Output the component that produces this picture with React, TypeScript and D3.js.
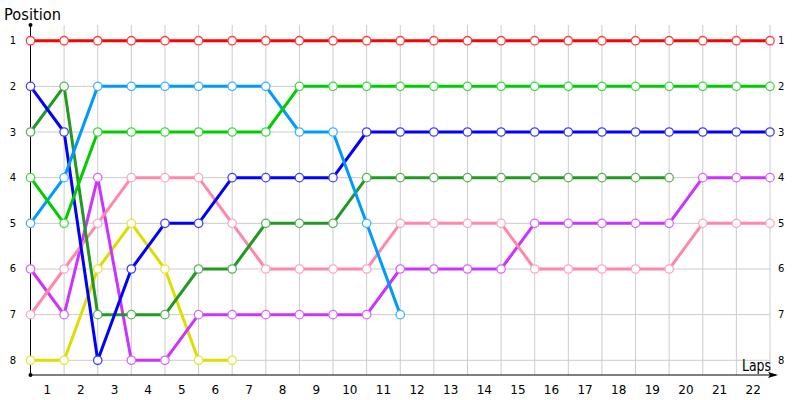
import * as d3 from "d3";

const laps = d3.range(0, 23);
const positions = [1, 2, 3, 4, 5, 6, 7, 8];
const lapLabels = laps.slice(1).map(String);

type Driver = { name: string; color: string; pos: number[] };

const red = [1, 1, 1, 1, 1, 1, 1, 1, 1, 1, 1, 1, 1, 1, 1, 1, 1, 1, 1, 1, 1, 1, 1];
const lightBlue = [5, 4, 2, 2, 2, 2, 2, 2, 3, 3, 5, 7];
const green = [4, 5, 3, 3, 3, 3, 3, 3, 2, 2, 2, 2, 2, 2, 2, 2, 2, 2, 2, 2, 2, 2, 2];
const darkGreen = [3, 2, 7, 7, 7, 6, 6, 5, 5, 5, 4, 4, 4, 4, 4, 4, 4, 4, 4, 4];
const blue = [2, 3, 8, 6, 5, 5, 4, 4, 4, 4, 3, 3, 3, 3, 3, 3, 3, 3, 3, 3, 3, 3, 3];
const pink = [7, 6, 5, 4, 4, 4, 5, 6, 6, 6, 6, 5, 5, 5, 5, 6, 6, 6, 6, 6, 5, 5, 5];
const purple = [6, 7, 4, 8, 8, 7, 7, 7, 7, 7, 7, 6, 6, 6, 6, 5, 5, 5, 5, 5, 4, 4, 4];
const yellow = [8, 8, 6, 5, 6, 8, 8];

const drivers: Driver[] = [
  { name: "yellow", color: "#dddd00", pos: yellow },
  { name: "purple", color: "#cc33ff", pos: purple },
  { name: "pink", color: "#ff88aa", pos: pink },
  { name: "darkGreen", color: "#229922", pos: darkGreen },
  { name: "blue", color: "#0000ff", pos: blue },
  { name: "lightBlue", color: "#0099ff", pos: lightBlue },
  { name: "green", color: "#00cc00", pos: green },
  { name: "red", color: "#ff0000", pos: red },
];

const font = "Tahoma, 'DejaVu Sans', sans-serif";

export default function App() {
  const x = d3.scaleLinear().domain([0, 22]).range([30.5, 770]);
  const y = d3.scaleLinear().domain([1, 8]).range([40.7, 360.3]);
  const top = 25;
  const bottom = 375;

  const line = d3
    .line<number>()
    .x((_, i) => x(i))
    .y((d) => y(d));

  const lighter = (c: string) => d3.interpolateRgb(c, "#ffffff")(0.25);

  return (
    <div style={{ position: "absolute", left: 0, top: 0 }}>
      <svg width={800} height={400} style={{ display: "block", fontFamily: font }}>
        <rect width={800} height={400} fill="#fff" />
        {/* grid */}
        <g stroke="#cccccc" strokeWidth={1}>
          {laps.map((l) => (
            <line key={"v" + l} x1={x(l)} x2={x(l)} y1={top} y2={bottom} />
          ))}
          {positions.map((p) => (
            <line key={"h" + p} x1={x(0)} x2={x(22)} y1={y(p)} y2={y(p)} />
          ))}
        </g>
        {/* axes */}
        <line x1={x(0)} x2={x(0)} y1={bottom} y2={top} stroke="#000" />
        <line x1={x(0)} x2={776} y1={bottom} y2={bottom} stroke="#000" />
        <path d={`M${778},${bottom} L${768},${bottom - 3} L${770},${bottom} L${768},${bottom + 3} Z`} fill="#000" />
        <circle cx={x(0)} cy={top} r={2} fill="#000" />
        <circle cx={x(0)} cy={bottom} r={2} fill="#000" />
        {/* lap labels */}
        <g fontSize={12} textAnchor="middle" fill="#000">
          {lapLabels.map((t, i) => (
            <text key={t} x={x(i + 0.5)} y={394}>
              {t}
            </text>
          ))}
        </g>
        {/* position labels */}
        <g fontSize={10} fill="#000">
          {positions.map((p) => (
            <text key={"l" + p} x={13} y={y(p) + 3.5} textAnchor="middle">
              {p}
            </text>
          ))}
          {positions.map((p) => (
            <text key={"r" + p} x={778} y={y(p) + 3.5} textAnchor="start">
              {p}
            </text>
          ))}
        </g>
        <text x={4} y={20} fontSize={16} fill="#000" textLength={57} lengthAdjust="spacingAndGlyphs">
          Position
        </text>
        <text x={742} y={371} fontSize={15} fill="#000" textLength={29} lengthAdjust="spacingAndGlyphs">
          Laps
        </text>
        {/* series */}
        {drivers.map((d) => (
          <g key={d.name}>
            <path d={line(d.pos) || ""} fill="none" stroke={d.color} strokeWidth={3} strokeLinejoin="round" />
            {d.pos.map((p, i) => (
              <circle
                key={i}
                cx={x(i)}
                cy={y(p)}
                r={4.2}
                fill="#fff"
                stroke={lighter(d.color)}
                strokeWidth={1.3}
              />
            ))}
          </g>
        ))}
      </svg>
    </div>
  );
}
